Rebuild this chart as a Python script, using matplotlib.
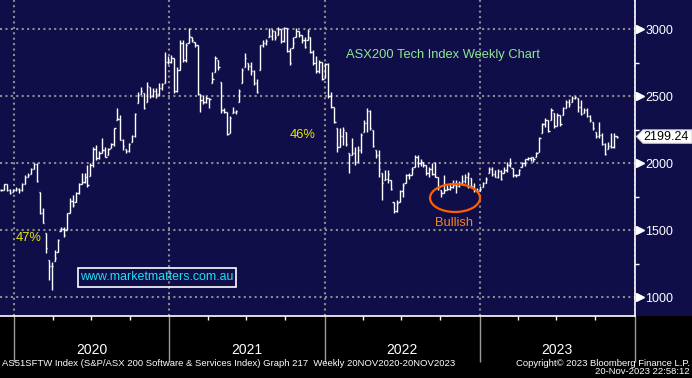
import numpy as np
import pandas as pd
import matplotlib
matplotlib.use("Agg")
import matplotlib.pyplot as plt
import matplotlib.dates as mdates
import matplotlib.transforms as mtransforms
from matplotlib.collections import LineCollection
from matplotlib.patches import Ellipse, Rectangle, Polygon
from matplotlib import font_manager as fm

# ---------------- data (weekly bars) ----------------
start_date = "2019-12-02"
close = [
    1800, 1845, 1800, 1780, 1800, 1810, 1800, 1845, 1900, 1910,
    1960, 1995, 1870, 1630, 1555, 1365, 1230, 1235, 1290, 1425,
    1510, 1460, 1625, 1720, 1690, 1775, 1845, 1860, 1900, 1840,
    1990, 2110, 2040, 2080, 2100, 2050, 2110, 2140, 2260, 2330,
    2175, 2130, 2090, 2145, 2200, 2370, 2510, 2540, 2410, 2580,
    2500, 2540, 2520, 2560, 2590, 2760, 2760, 2790, 2540, 2700,
    2900, 2770, 2880, 2950, 2920, 2880, 2520, 2470, 2460, 2490,
    2480, 2630, 2790, 2720, 2400, 2380, 2220, 2340, 2380, 2390,
    2540, 2700, 2790, 2730, 2690, 2600, 2530, 2880, 2900, 2910,
    2950, 2990, 2940, 3000, 2910, 3010, 2840, 2750, 2900, 2990,
    2960, 2920, 2870, 2990, 2830, 2750, 2690, 2760, 2630, 2740,
    2500, 2420, 2310, 2120, 2200, 2250, 2140, 2060, 2080, 2010,
    2100, 2210, 2300, 2390, 2260, 2130, 2060, 1960, 1850, 1880,
    1920, 1810, 1640, 1700, 1790, 1840, 1910, 1915, 1960, 2050,
    2000, 2010, 1990, 1930, 1960, 1920, 1900, 1820, 1780, 1800,
    1810, 1820, 1840, 1830, 1850, 1870, 1900, 1920, 1830, 1800,
    1790, 1810, 1850, 1880, 1960, 1920, 1900, 1940, 1880, 1950,
    1990, 2000, 1910, 1910, 1950, 2000, 2030, 2040, 2045, 2030,
    2080, 2190, 2290, 2320, 2240, 2400, 2280, 2360, 2290, 2410,
    2460, 2440, 2490, 2495, 2420, 2370, 2400, 2350, 2320, 2260,
    2200, 2210, 2140, 2070, 2130, 2120, 2200, 2199.24,
]
high = [
    1810, 1845, 1845, 1805, 1810, 1820, 1815, 1850, 1910, 1925,
    1965, 2005, 2000, 1785, 1665, 1480, 1280, 1260, 1355, 1430,
    1520, 1520, 1630, 1740, 1760, 1785, 1850, 1925, 1930, 1990,
    2000, 2120, 2135, 2090, 2190, 2120, 2115, 2150, 2265, 2410,
    2360, 2180, 2110, 2150, 2210, 2375, 2530, 2570, 2525, 2610,
    2570, 2560, 2560, 2600, 2600, 2830, 2800, 2810, 2790, 2720,
    2920, 2920, 2900, 3010, 2945, 2905, 2880, 2520, 2510, 2500,
    2490, 2680, 2800, 2770, 2610, 2410, 2385, 2350, 2420, 2400,
    2555, 2710, 2825, 2750, 2755, 2700, 2630, 2885, 2920, 2930,
    3010, 3000, 2990, 3020, 3000, 3020, 3010, 2860, 2940, 3010,
    2985, 2960, 2940, 3000, 2940, 2850, 2800, 2775, 2755, 2750,
    2750, 2530, 2420, 2265, 2265, 2270, 2235, 2075, 2185, 2120,
    2130, 2225, 2320, 2410, 2400, 2250, 2100, 2100, 1925, 1950,
    1950, 1875, 1710, 1725, 1800, 1850, 1920, 1930, 1970, 2060,
    2060, 2030, 2010, 1990, 1970, 2000, 2010, 1895, 1800, 1910,
    1840, 1850, 1875, 1875, 1870, 1910, 1920, 1935, 1890, 1850,
    1815, 1830, 1860, 1895, 1970, 1970, 1950, 1960, 1950, 1970,
    2010, 2040, 1965, 1920, 1960, 2010, 2030, 2050, 2050, 2050,
    2085, 2195, 2300, 2340, 2325, 2410, 2375, 2375, 2360, 2420,
    2470, 2480, 2500, 2505, 2490, 2475, 2410, 2410, 2360, 2310,
    2235, 2310, 2225, 2150, 2160, 2225, 2225, 2205,
]
low = [
    1790, 1800, 1795, 1770, 1785, 1790, 1780, 1795, 1845, 1895,
    1920, 1960, 1860, 1620, 1550, 1330, 1125, 1050, 1270, 1335,
    1495, 1450, 1500, 1630, 1670, 1710, 1770, 1845, 1850, 1820,
    1905, 1970, 2025, 2030, 2075, 2045, 2060, 2115, 2125, 2320,
    2170, 2100, 2080, 2085, 2160, 2195, 2450, 2520, 2405, 2460,
    2490, 2495, 2490, 2500, 2550, 2600, 2740, 2750, 2525, 2530,
    2700, 2755, 2760, 2900, 2905, 2870, 2510, 2385, 2440, 2450,
    2410, 2600, 2680, 2700, 2375, 2375, 2210, 2225, 2375, 2370,
    2460, 2600, 2720, 2700, 2660, 2585, 2525, 2700, 2870, 2880,
    2940, 2920, 2920, 2960, 2900, 2905, 2830, 2735, 2860, 2940,
    2945, 2900, 2860, 2920, 2825, 2735, 2675, 2675, 2620, 2640,
    2490, 2410, 2300, 2085, 2120, 2135, 2130, 1925, 2060, 1990,
    2010, 2075, 2235, 2235, 2250, 2120, 2040, 1900, 1725, 1875,
    1850, 1800, 1630, 1635, 1710, 1745, 1850, 1880, 1910, 1970,
    1970, 1980, 1970, 1910, 1895, 1910, 1895, 1800, 1745, 1780,
    1800, 1800, 1815, 1780, 1820, 1835, 1850, 1815, 1815, 1785,
    1785, 1790, 1820, 1850, 1925, 1905, 1895, 1890, 1875, 1925,
    1935, 1970, 1900, 1900, 1910, 1970, 1980, 2025, 2020, 2010,
    2045, 2085, 2225, 2270, 2235, 2320, 2265, 2280, 2280, 2360,
    2410, 2420, 2460, 2480, 2385, 2360, 2375, 2345, 2310, 2250,
    2190, 2190, 2135, 2060, 2110, 2115, 2115, 2190,
]
years = ["2020", "2021", "2022", "2023"]
y_major = [1000, 1500, 2000, 2500, 3000]
y_minor = [1250, 1750, 2250, 2750]
title_text = "ASX200 Tech Index Weekly Chart"
footer_left = "AS51SFTW Index (S&P/ASX 200 Software & Services Index) Graph 217  Weekly 20NOV2020-20NOV2023"
footer_right1 = "Copyright\u00a9 2023 Bloomberg Finance L.P."
footer_right2 = "20-Nov-2023 22:58:12"

# ---------------- fonts ----------------
ttf = fm.fontManager.ttflist
names = {f.name for f in ttf}
SANS = "Liberation Sans" if "Liberation Sans" in names else "DejaVu Sans"
if "Liberation Sans Narrow" in names:
    NARROW = dict(family="Liberation Sans Narrow")
    FOOT_FS, YEAR_FS = 8.0, 11.0
else:
    NARROW = dict(family=SANS)
    FOOT_FS, YEAR_FS = 6.8, 10.0

# ---------------- figure ----------------
W, H = 692, 378
NAVY = "#100e48"
fig = plt.figure(figsize=(W / 100, H / 100), dpi=100, facecolor="black")
bot = 62 / H
fig.patches.append(Rectangle((0, bot), 1, 1 - bot, transform=fig.transFigure,
                             facecolor=NAVY, edgecolor="none", zorder=-5))
ax = fig.add_axes([0, bot, 635 / W, 316 / H])
ax.set_facecolor(NAVY)

def P(x, y):
    return (x / W, 1 - y / H)

dates = pd.date_range(start_date, periods=len(close), freq="7D")
xd = mdates.date2num(dates)
close_a = np.array(close, float)
high_a = np.array(high, float)
low_a = np.array(low, float)
open_a = np.clip(np.r_[close_a[0], close_a[:-1]], low_a, high_a)

half = 3.0
segs = []
for xi, o, h, l, c in zip(xd, open_a, high_a, low_a, close_a):
    segs.append([(xi, l), (xi, h)])
    segs.append([(xi - half, o), (xi, o)])
    segs.append([(xi, c), (xi + half, c)])
ax.add_collection(LineCollection(segs, colors="white", linewidths=1.0,
                                 capstyle="butt", zorder=3))

ax.set_xlim(mdates.date2num(pd.Timestamp("2019-11-29")),
            mdates.date2num(pd.Timestamp("2024-01-02")))
ax.set_ylim(858, 3220)

# grid
year_starts = [mdates.date2num(pd.Timestamp(f"{y}-01-01")) for y in range(2020, 2025)]
ax.set_xticks(year_starts)
ax.set_xticklabels([""] * len(year_starts))
quarters = [mdates.date2num(pd.Timestamp(f"{y}-{m:02d}-01"))
            for y in range(2020, 2024) for m in (4, 7, 10)]
ax.set_xticks(quarters, minor=True)
ax.set_yticks(y_major)
ax.set_yticks(y_minor, minor=True)
ax.grid(True, which="major", color="#8c8c8c", lw=1.5, linestyle=(0, (1, 1.6)), zorder=1)
ax.set_axisbelow(True)

for s in ("left", "top"):
    ax.spines[s].set_visible(False)
for s in ("right", "bottom"):
    ax.spines[s].set_color("white")
    ax.spines[s].set_linewidth(1.2)

ax.yaxis.tick_right()
ax.tick_params(axis="y", which="major", length=0, pad=7.5, labelsize=9,
               labelcolor="white")
ax.tick_params(axis="y", which="minor", length=3, width=1, color="white",
               direction="out")
for lab in ax.get_yticklabels():
    lab.set_fontfamily(SANS)
ax.tick_params(axis="x", which="major", length=33, width=1, color="#9a9a9a",
               direction="out", top=False)
ax.tick_params(axis="x", which="minor", length=3, width=1, color="white",
               direction="out", top=False)

# triangle markers on right axis
tri_tr = mtransforms.blended_transform_factory(ax.transAxes, ax.transData)
ax.plot([1 + 5 / 635] * len(y_major), y_major, linestyle="none", marker=">",
        markersize=5.5, color="white", transform=tri_tr, clip_on=False, zorder=5)

# year labels
yr_tr = mtransforms.blended_transform_factory(ax.transData, ax.transAxes)
for y in years:
    xm = mdates.date2num(pd.Timestamp(f"{y}-07-02"))
    ax.text(xm, -0.108, y, transform=yr_tr, ha="center", va="center",
            color="white", fontsize=YEAR_FS, **NARROW)

# last value box
yc = close_a[-1]
box_tr = mtransforms.blended_transform_factory(fig.transFigure, ax.transData)
poly = Polygon([(636.5 / W, yc), (643 / W, yc + 50), (692 / W, yc + 50),
                (692 / W, yc - 50), (643 / W, yc - 50)], closed=True,
               transform=box_tr, facecolor="white", edgecolor="#cfcfcf",
               lw=0.8, clip_on=False, zorder=6)
ax.add_artist(poly)
ax.text(666.5 / W, yc, f"{yc:.2f}", transform=box_tr, ha="center", va="center",
        color="black", fontsize=9, family=SANS, zorder=7, clip_on=False)

# annotations
fig.text(*P(346, 55), title_text, color="#8ee88e", fontsize=9.3, family=SANS,
         ha="left", va="center")
fig.text(*P(290, 135), "46%", color="#e8e800", fontsize=9.3, family=SANS,
         ha="left", va="center")
fig.text(*P(16, 238), "47%", color="#e8e800", fontsize=9.3, family=SANS,
         ha="left", va="center")
fig.text(*P(435, 222.5), "Bullish", color="#f5841f", fontsize=9.3, family=SANS,
         ha="left", va="center")
ell = Ellipse(P(455, 198), 50 / W, 28 / H, transform=fig.transFigure,
              facecolor="none", edgecolor="#ff5f00", lw=1.6, zorder=8)
fig.patches.append(ell)
fig.patches.append(Rectangle(P(78, 287), (235.5 - 78) / W, 19 / H,
                             transform=fig.transFigure, facecolor="none",
                             edgecolor="white", lw=1.2, zorder=8))
fig.text(*P(156.5, 277.5), "www.marketmatters.com.au", color="#1ee0f0",
         fontsize=8.9, family=SANS, ha="center", va="center")

# footer
fig.text(*P(2, 363), footer_left, color="white", fontsize=FOOT_FS, ha="left",
         va="center", **NARROW)
fig.text(*P(690, 363), footer_right1, color="white", fontsize=FOOT_FS, ha="right",
         va="center", **NARROW)
fig.text(*P(690, 372), footer_right2, color="white", fontsize=FOOT_FS, ha="right",
         va="center", **NARROW)

fig.savefig("out.png", dpi=100, facecolor=fig.get_facecolor())
